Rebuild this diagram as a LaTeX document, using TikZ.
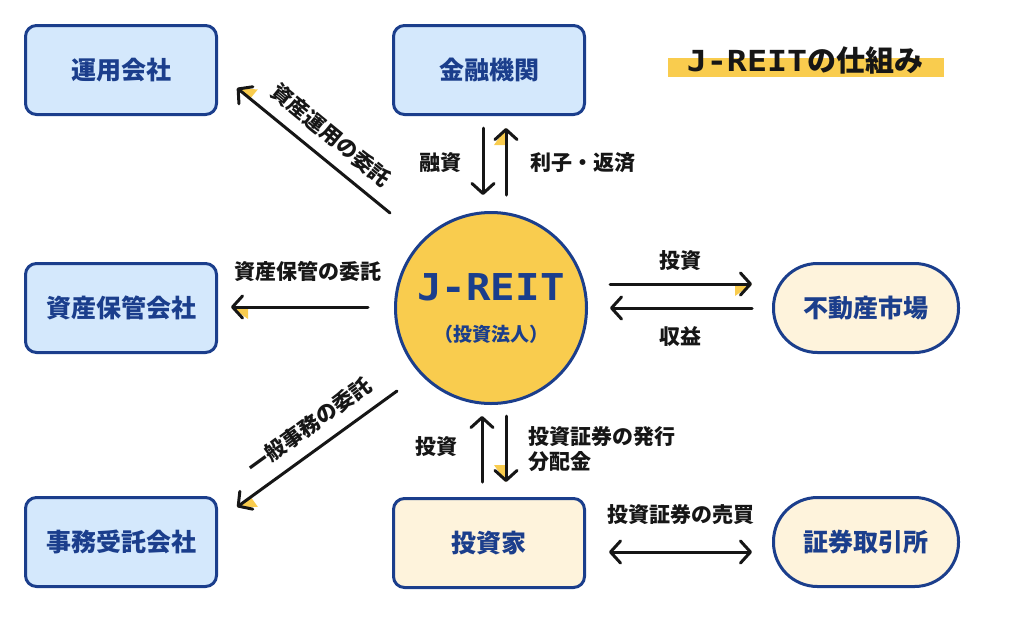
\documentclass[tikz,border=0pt]{standalone}
\usepackage{fontspec}
\setmainfont{Noto Sans CJK JP}
\newfontfamily\monof{DejaVu Sans Mono}
\usetikzlibrary{arrows.meta,calc}
\definecolor{jblue}{HTML}{1B3E8C}
\definecolor{lblue}{HTML}{D4E8FC}
\definecolor{cream}{HTML}{FEF3DC}
\definecolor{jyellow}{HTML}{F9CC4E}
\definecolor{ink}{HTML}{161616}
\newcommand{\yhl}[3]{%
  \path (#1) coordinate (yA) ($(#1)!17pt!(#2)$) coordinate (yB);
  \path ($(yB)!12pt!#3:(yA)$) coordinate (yC);
  \fill[jyellow] (yA) -- (yB) -- (yC) -- cycle;}
\begin{document}
\begin{tikzpicture}[x=1pt,y=-1pt,
 box/.style={draw=jblue, line width=3pt, rounded corners=11pt, minimum width=191pt, minimum height=89pt, inner sep=0pt, text=jblue, font=\fontsize{25}{30}\selectfont\bfseries},
 bluebox/.style={box, fill=lblue},
 creambox/.style={box, fill=cream},
 pill/.style={box, fill=cream, rounded corners=44pt, minimum width=185pt},
 arr/.style={draw=ink, line width=3pt, line cap=round, -{Straight Barb[length=10pt,width=22pt,line cap=round,line join=round]}},
 darr/.style={draw=ink, line width=3pt, line cap=round, {Straight Barb[length=10pt,width=22pt,line cap=round,line join=round]}-{Straight Barb[length=10pt,width=22pt,line cap=round,line join=round]}},
 lbl/.style={text=ink, font=\fontsize{21}{25}\selectfont\bfseries, inner sep=2pt},
]
\useasboundingbox (0,0) rectangle (1033,633);

% nodes
\node[bluebox] (unyo) at (121,70) {運用会社};
\node[bluebox] (kinyu) at (489,70) {金融機関};
\node[bluebox] (hokan) at (121,308) {資産保管会社};
\node[bluebox] (jimu) at (121,542) {事務受託会社};
\node[creambox] (toushika) at (489,543) {投資家};
\node[pill] (fudosan) at (866,308) {不動産市場};
\node[pill] (shoken) at (866,542) {証券取引所};
\node[circle, draw=jblue, line width=3pt, fill=jyellow, minimum size=191pt, inner sep=0pt, align=center, text=jblue, font=\fontsize{19}{41}\selectfont] (reit) at (491,308)
  {{\monof\bfseries\fontsize{37}{40}\selectfont\scalebox{1.1}[1]{J-REIT}}\\
   {\bfseries （投資法人）}};

% title
\node[fill=jyellow, minimum width=276pt, minimum height=19pt, inner sep=0pt] (bar) at (806,67.5) {};
\node[text=ink, inner sep=0pt] (title) at (805,60)
  {{\monof\bfseries\fontsize{29}{34}\selectfont\scalebox{1.15}[1]{J-REIT}}{\fontsize{29}{34}\selectfont\bfseries の仕組み}};

% coordinates
\coordinate (a1s) at (390,213); \coordinate (a1e) at (237,88);
\coordinate (b1s) at (483,128); \coordinate (b1e) at (483,195);
\coordinate (b2s) at (506,195); \coordinate (b2e) at (506,128);
\coordinate (c1s) at (368,307); \coordinate (c1e) at (231,307);
\coordinate (d1s) at (610,284); \coordinate (d1e) at (752,284);
\coordinate (d2s) at (752,308); \coordinate (d2e) at (610,308);
\coordinate (e1s) at (397,391); \coordinate (e1e) at (237,507);
\coordinate (f1s) at (482,482); \coordinate (f1e) at (482,416);
\coordinate (f2s) at (506,416); \coordinate (f2e) at (506,482);
\coordinate (g1s) at (609,552); \coordinate (g1e) at (752,552);

% yellow highlights behind heads
\yhl{a1e}{a1s}{-90}
\yhl{b2e}{b2s}{90}
\yhl{c1e}{c1s}{90}
\yhl{d1e}{d1s}{-90}
\yhl{e1e}{e1s}{90}
\yhl{f2e}{f2s}{-90}

% connectors
\draw[arr] (a1s) -- (a1e);
\path (a1e) -- (a1s) node[pos=0.52, sloped, above=11pt, lbl] (la) {資産運用の委託};
\draw[arr] (b1s) -- (b1e);
\draw[arr] (b2s) -- (b2e);
\node[lbl] (lb1) at (440,163) {融資};
\node[lbl] (lb2) at (583,163) {利子・返済};
\draw[arr] (c1s) -- (c1e);
\node[lbl] (lc) at (308,271) {資産保管の委託};
\draw[arr] (d1s) -- (d1e);
\draw[arr] (d2s) -- (d2e);
\node[lbl] (ld1) at (680,261) {投資};
\node[lbl] (ld2) at (680,337) {収益};
\draw[arr] (e1s) -- (e1e);
\path (e1e) -- (e1s) node[pos=0.54, sloped, above=11pt, lbl] (le) {一般事務の委託};
\draw[arr] (f1s) -- (f1e);
\draw[arr] (f2s) -- (f2e);
\node[lbl] (lf1) at (436,447) {投資};
\node[lbl, anchor=west, align=left] (lf2) at (526,449) {投資証券の発行\\分配金};
\draw[darr] (g1s) -- (g1e);
\node[lbl] (lg) at (681,515) {投資証券の売買};
\end{tikzpicture}
\end{document}
